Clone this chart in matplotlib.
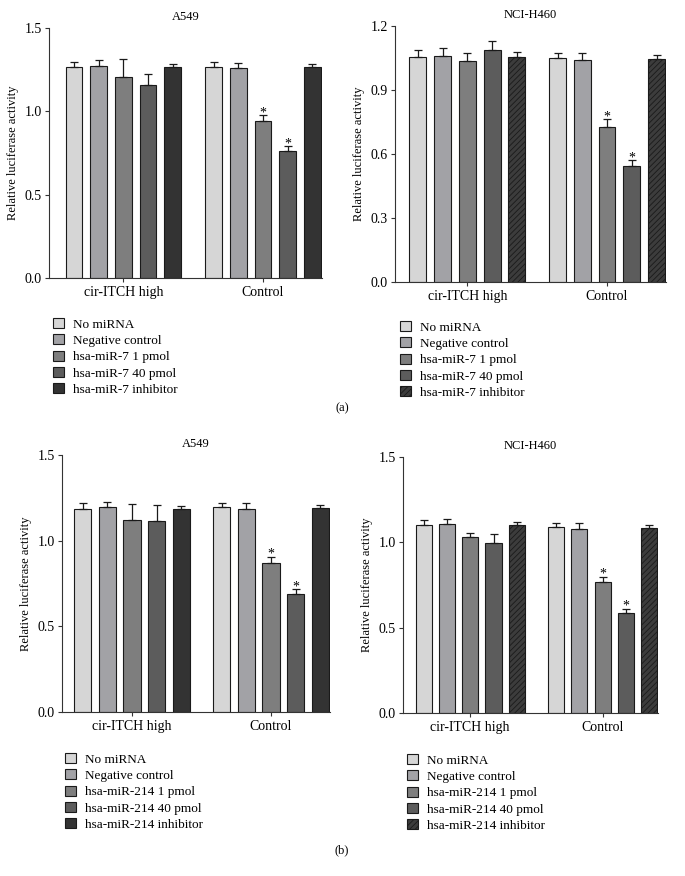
import matplotlib
matplotlib.use("Agg")
import matplotlib.pyplot as plt
from matplotlib.patches import Patch
import numpy as np

# ---------------- data ----------------
categories = ["cir-ITCH high", "Control"]
series_a = ["No miRNA", "Negative control", "hsa-miR-7 1 pmol", "hsa-miR-7 40 pmol", "hsa-miR-7 inhibitor"]
series_b = ["No miRNA", "Negative control", "hsa-miR-214 1 pmol", "hsa-miR-214 40 pmol", "hsa-miR-214 inhibitor"]

# (a) A549
a549_a_vals = [[1.264, 1.270, 1.206, 1.158, 1.264], [1.264, 1.258, 0.942, 0.764, 1.264]]
a549_a_errs = [[0.032, 0.036, 0.108, 0.066, 0.020], [0.030, 0.034, 0.036, 0.026, 0.018]]
# (a) NCI-H460
h460_a_vals = [[1.056, 1.061, 1.034, 1.086, 1.056], [1.049, 1.039, 0.726, 0.545, 1.044]]
h460_a_errs = [[0.033, 0.038, 0.038, 0.044, 0.021], [0.026, 0.035, 0.036, 0.026, 0.019]]
# (b) A549
a549_b_vals = [[1.186, 1.194, 1.122, 1.116, 1.186], [1.194, 1.186, 0.871, 0.690, 1.190]]
a549_b_errs = [[0.032, 0.033, 0.092, 0.092, 0.018], [0.024, 0.032, 0.035, 0.025, 0.016]]
# (b) NCI-H460
h460_b_vals = [[1.099, 1.107, 1.029, 0.996, 1.099], [1.089, 1.081, 0.766, 0.584, 1.085]]
h460_b_errs = [[0.033, 0.031, 0.025, 0.052, 0.021], [0.025, 0.033, 0.033, 0.028, 0.016]]

# significance marks: (group index, series index)
stars = [(1, 2), (1, 3)]

a549_ticks = [0.0, 0.5, 1.0, 1.5]
h460_a_ticks = [0.0, 0.3, 0.6, 0.9, 1.2]
h460_b_ticks = [0.0, 0.5, 1.0, 1.5]

# ---------------- style ----------------
plt.rcParams['font.family'] = ['Liberation Serif', 'DejaVu Serif']
plt.rcParams['hatch.linewidth'] = 0.6
FS_TICK = 10
FS_LAB = 9
FS_LEG = 9.5
colors = ['#d6d6d6', '#a2a2a6', '#7e7e7e', '#5c5c5c', '#333333']
hatched_color = '#3c3c3c'

W, H = 685, 876
fig = plt.figure(figsize=(W / 100, H / 100), dpi=100)


def make_axes(left, right, y0, ytop):
    return fig.add_axes([left / W, 1 - y0 / H, (right - left) / W, (y0 - ytop) / H])


def draw_panel(ax, title, vals, errs, ticks, xlim, gsep, width, hatch_last):
    group_centers = [0.0, gsep]
    offsets = np.arange(-2, 3)
    for gi, gc in enumerate(group_centers):
        for si in range(5):
            x = gc + offsets[si]
            v = vals[gi][si]
            e = errs[gi][si]
            hatch = '//////' if (hatch_last and si == 4) else None
            fc = hatched_color if hatch else colors[si]
            ax.bar(x, v, width=width, color=fc, edgecolor='#1a1a1a', linewidth=0.8,
                   hatch=hatch, zorder=2)
            ax.errorbar(x, v, yerr=[[0], [e]], fmt='none', ecolor='#1a1a1a',
                        elinewidth=0.9, capsize=3, capthick=0.9, zorder=3)
            if (gi, si) in stars:
                ax.annotate('*', xy=(x, v + e), xytext=(0, -3), textcoords='offset points',
                            ha='center', va='bottom', fontsize=FS_TICK)
    ax.set_xlim(*xlim)
    ax.set_ylim(0, ticks[-1])
    ax.set_yticks(ticks)
    ax.set_yticklabels([f"{t:.1f}" for t in ticks])
    ax.set_xticks(group_centers)
    ax.set_xticklabels(categories)
    ax.tick_params(axis='both', labelsize=FS_TICK, length=3, width=0.8, color='#333333')
    ax.tick_params(axis='x', pad=2.5)
    ax.tick_params(axis='y', pad=2)
    for s in ['top', 'right']:
        ax.spines[s].set_visible(False)
    for s in ['left', 'bottom']:
        ax.spines[s].set_linewidth(0.8)
        ax.spines[s].set_color('#333333')
    ax.set_ylabel('Relative luciferase activity', fontsize=FS_LAB, labelpad=4)
    ax.set_title(title, fontsize=FS_LAB, pad=6)


def add_legend(labels, hatch_last, x_px, y_px):
    handles = []
    for i, lab in enumerate(labels):
        if hatch_last and i == 4:
            handles.append(Patch(facecolor=hatched_color, edgecolor='#1a1a1a', hatch='//////',
                                 linewidth=0.8, label=lab))
        else:
            handles.append(Patch(facecolor=colors[i], edgecolor='#1a1a1a', linewidth=0.8, label=lab))
    fig.legend(handles=handles, loc='upper left', bbox_to_anchor=(x_px / W, 1 - y_px / H),
               frameon=False, fontsize=FS_LEG, handlelength=0.8, handleheight=0.8,
               handletextpad=0.7, labelspacing=0.28, borderpad=0, borderaxespad=0)


ax1 = make_axes(49, 322, 278, 28)
draw_panel(ax1, 'A549', a549_a_vals, a549_a_errs, a549_ticks, (-3.01, 8.05), 5.66, 0.68, False)
ax2 = make_axes(395, 666, 282, 26)
draw_panel(ax2, 'NCI-H460', h460_a_vals, h460_a_errs, h460_a_ticks, (-2.92, 8.02), 5.64, 0.68, True)
ax3 = make_axes(62, 330, 712, 455)
draw_panel(ax3, 'A549', a549_b_vals, a549_b_errs, a549_ticks, (-2.83, 8.02), 5.63, 0.70, False)
ax4 = make_axes(403, 658, 713, 457)
draw_panel(ax4, 'NCI-H460', h460_b_vals, h460_b_errs, h460_b_ticks, (-2.89, 8.07), 5.69, 0.69, True)

add_legend(series_a, False, 53, 318)
add_legend(series_a, True, 400, 321)
add_legend(series_b, False, 65, 753)
add_legend(series_b, True, 407, 754)

fig.text(342 / W, 1 - 408 / H, '(a)', ha='center', va='center', fontsize=FS_LAB)
fig.text(342 / W, 1 - 850 / H, '(b)', ha='center', va='center', fontsize=FS_LAB)

fig.savefig('out.png', dpi=100, facecolor='white')
